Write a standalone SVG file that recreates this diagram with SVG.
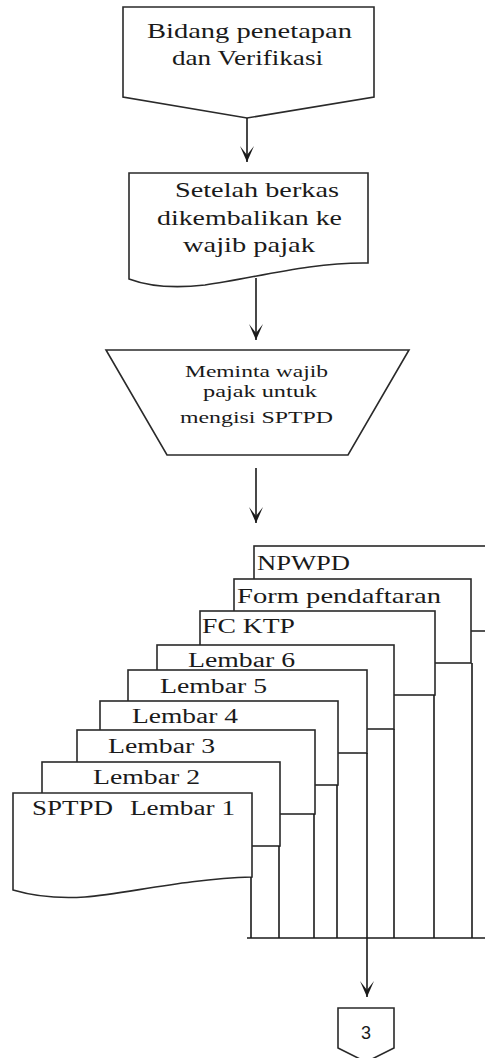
<svg xmlns="http://www.w3.org/2000/svg" width="485" height="1058" viewBox="0 0 485 1058">
<defs>
<marker id="arr" viewBox="0 0 16 16" refX="16" refY="8" markerWidth="16" markerHeight="16" markerUnits="userSpaceOnUse" orient="auto">
<path d="M0,1 L16,8 L0,15 L9,8 Z" fill="#1a1a1a"/>
</marker>
</defs>
<style>
.s{fill:#ffffff;stroke:#2a2a2a;stroke-width:1.6;stroke-linejoin:miter}
.c{fill:none;stroke:#1a1a1a;stroke-width:1.6}
.t{font-family:"Liberation Serif","Times New Roman",serif;fill:#1a1a1a}
.n{font-family:"Liberation Sans",Arial,sans-serif;fill:#1a1a1a}
</style>
<rect width="485" height="1058" fill="#ffffff"/>

<g id="node-bidang">
<polygon class="s" points="123,7 374,7 374,97 247,118 123,97"/>
<text class="t" x="147" y="38" font-size="22" textLength="205" lengthAdjust="spacingAndGlyphs">Bidang penetapan</text>
<text class="t" x="172" y="65" font-size="22" textLength="151" lengthAdjust="spacingAndGlyphs">dan Verifikasi</text>
</g>

<g id="node-setelah">
<path class="s" d="M129,173 H368 V263 C310,262 255,278 205,285 C170,289 145,285 129,279 Z"/>
<text class="t" x="175" y="197" font-size="22" textLength="164" lengthAdjust="spacingAndGlyphs">Setelah berkas</text>
<text class="t" x="157" y="225" font-size="22" textLength="185" lengthAdjust="spacingAndGlyphs">dikembalikan ke</text>
<text class="t" x="183" y="252" font-size="22" textLength="132" lengthAdjust="spacingAndGlyphs">wajib pajak</text>
</g>

<g id="node-meminta">
<polygon class="s" points="106,350 409,350 348,455 167,455"/>
<text class="t" x="185" y="377" font-size="17" textLength="143" lengthAdjust="spacingAndGlyphs">Meminta wajib</text>
<text class="t" x="203" y="397" font-size="17" textLength="114" lengthAdjust="spacingAndGlyphs">pajak untuk</text>
<text class="t" x="180" y="423" font-size="17" textLength="153" lengthAdjust="spacingAndGlyphs">mengisi SPTPD</text>
</g>

<g id="doc-npwpd">
<rect class="s" x="254" y="546" width="246" height="85"/>
<line class="c" x1="500" y1="631" x2="500" y2="938"/>
<text class="t" x="257" y="570" font-size="22" textLength="93" lengthAdjust="spacingAndGlyphs">NPWPD</text>
</g>
<g id="doc-form">
<rect class="s" x="234" y="579" width="237" height="84"/>
<line class="c" x1="472" y1="663" x2="472" y2="938"/>
<text class="t" x="237" y="603" font-size="22" textLength="204" lengthAdjust="spacingAndGlyphs">Form pendaftaran</text>
</g>
<g id="doc-fcktp">
<rect class="s" x="200" y="611" width="235" height="84"/>
<line class="c" x1="434" y1="695" x2="434" y2="938"/>
<text class="t" x="202" y="633" font-size="22" textLength="93" lengthAdjust="spacingAndGlyphs">FC KTP</text>
</g>
<g id="doc-lembar6">
<rect class="s" x="157" y="645" width="237" height="84"/>
<line class="c" x1="394" y1="729" x2="394" y2="938"/>
<text class="t" x="188" y="667" font-size="20" textLength="107" lengthAdjust="spacingAndGlyphs">Lembar 6</text>
</g>
<g id="doc-lembar5">
<rect class="s" x="128" y="670" width="239" height="83"/>
<text class="t" x="160" y="693" font-size="20" textLength="107" lengthAdjust="spacingAndGlyphs">Lembar 5</text>
</g>
<g id="doc-lembar4">
<rect class="s" x="100" y="701" width="238" height="84"/>
<line class="c" x1="337" y1="785" x2="337" y2="938"/>
<text class="t" x="132" y="723" font-size="20" textLength="106" lengthAdjust="spacingAndGlyphs">Lembar 4</text>
</g>
<g id="doc-lembar3">
<rect class="s" x="77" y="730" width="238" height="84"/>
<line class="c" x1="314" y1="814" x2="314" y2="938"/>
<text class="t" x="108" y="753" font-size="20" textLength="107" lengthAdjust="spacingAndGlyphs">Lembar 3</text>
</g>
<g id="doc-lembar2">
<rect class="s" x="42" y="762" width="238" height="84"/>
<line class="c" x1="279" y1="846" x2="279" y2="938"/>
<text class="t" x="93" y="784" font-size="20" textLength="107" lengthAdjust="spacingAndGlyphs">Lembar 2</text>
</g>
<g id="doc-lembar1">
<path class="s" d="M13,793 H252 V877 C185,879 125,894 85,897 C55,899 30,895 13,890 Z"/>
<line class="c" x1="251" y1="877" x2="251" y2="938"/>
<text class="t" y="815" font-size="20"><tspan x="32" textLength="81" lengthAdjust="spacingAndGlyphs">SPTPD</tspan> <tspan x="130" textLength="105" lengthAdjust="spacingAndGlyphs">Lembar 1</tspan></text>
</g>

<g id="connector-3">
<polygon class="s" points="338,1008 394,1008 394,1048 366,1062 338,1048"/>
<text class="n" x="366" y="1039" font-size="18" text-anchor="middle">3</text>
</g>

<g id="connectors">
<line class="c" x1="247" y1="118" x2="247" y2="162" marker-end="url(#arr)"/>
<line class="c" x1="256" y1="278" x2="256" y2="340" marker-end="url(#arr)"/>
<line class="c" x1="256" y1="468" x2="256" y2="523" marker-end="url(#arr)"/>
<line class="c" x1="247" y1="938" x2="485" y2="938"/>
<line class="c" x1="367" y1="753" x2="367" y2="997" marker-end="url(#arr)"/>
</g>
</svg>
